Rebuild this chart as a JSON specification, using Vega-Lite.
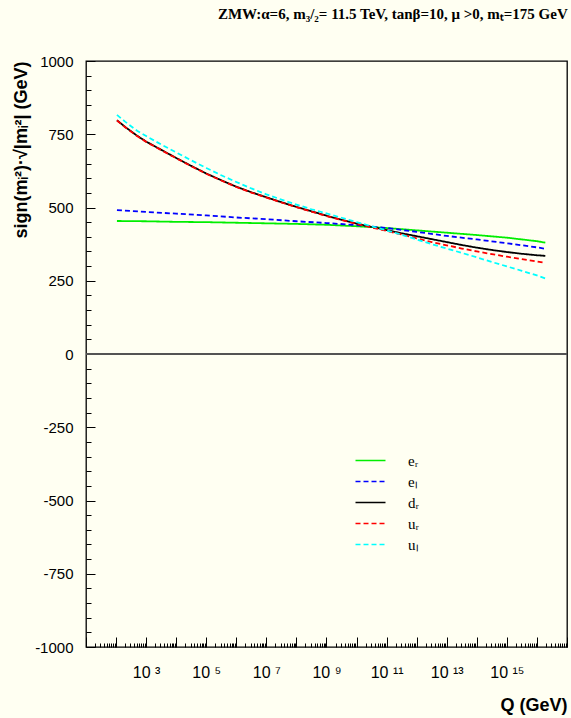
{
  "$schema": "https://vega.github.io/schema/vega-lite/v6.json",
  "autosize": {"type": "none"},
  "padding": {"left": 86, "top": 61, "right": 4, "bottom": 71},
  "width": 481,
  "height": 586,
  "background": "#fffff2",
  "title": {
    "text": "ZMW:α=6, m₃/₂= 11.5 TeV, tanβ=10, μ >0, mₜ=175 GeV",
    "anchor": "end",
    "font": "Liberation Serif",
    "fontSize": 15,
    "fontWeight": "bold",
    "color": "black",
    "offset": 32
  },
  "config": {
    "view": {"stroke": "black", "strokeWidth": 1.3},
    "axis": {
      "labelFont": "Liberation Sans",
      "labelFontSize": 15,
      "labelColor": "black",
      "titleFont": "Liberation Sans",
      "titleFontSize": 18,
      "titleFontWeight": "bold",
      "titleColor": "black",
      "tickColor": "black",
      "tickWidth": 1,
      "domain": false,
      "grid": false,
      "labelOverlap": false,
      "labelFlush": false
    }
  },
  "data": {
    "values": [
      {"Q": 107, "v": 454, "s": "eᵣ"},
      {"Q": 1e3, "v": 453, "s": "eᵣ"},
      {"Q": 1e4, "v": 451, "s": "eᵣ"},
      {"Q": 1e5, "v": 450, "s": "eᵣ"},
      {"Q": 1e6, "v": 448, "s": "eᵣ"},
      {"Q": 1e7, "v": 446, "s": "eᵣ"},
      {"Q": 1e8, "v": 444, "s": "eᵣ"},
      {"Q": 1e9, "v": 441, "s": "eᵣ"},
      {"Q": 1e10, "v": 436, "s": "eᵣ"},
      {"Q": 1e11, "v": 430, "s": "eᵣ"},
      {"Q": 1e12, "v": 422, "s": "eᵣ"},
      {"Q": 1e13, "v": 414, "s": "eᵣ"},
      {"Q": 1e14, "v": 406, "s": "eᵣ"},
      {"Q": 1e15, "v": 397, "s": "eᵣ"},
      {"Q": 1e16, "v": 385, "s": "eᵣ"},
      {"Q": 1.9e16, "v": 380, "s": "eᵣ"},

      {"Q": 107, "v": 491, "s": "eₗ"},
      {"Q": 1e3, "v": 485, "s": "eₗ"},
      {"Q": 1e4, "v": 479, "s": "eₗ"},
      {"Q": 1e5, "v": 473, "s": "eₗ"},
      {"Q": 1e6, "v": 466, "s": "eₗ"},
      {"Q": 1e7, "v": 460, "s": "eₗ"},
      {"Q": 1e8, "v": 453, "s": "eₗ"},
      {"Q": 1e9, "v": 447, "s": "eₗ"},
      {"Q": 1e10, "v": 440, "s": "eₗ"},
      {"Q": 1e11, "v": 430, "s": "eₗ"},
      {"Q": 1e12, "v": 417, "s": "eₗ"},
      {"Q": 1e13, "v": 403, "s": "eₗ"},
      {"Q": 1e14, "v": 391, "s": "eₗ"},
      {"Q": 1e15, "v": 378, "s": "eₗ"},
      {"Q": 1e16, "v": 364, "s": "eₗ"},
      {"Q": 1.9e16, "v": 359, "s": "eₗ"},

      {"Q": 107, "v": 798, "s": "dᵣ"},
      {"Q": 200, "v": 775, "s": "dᵣ"},
      {"Q": 500, "v": 745, "s": "dᵣ"},
      {"Q": 1e3, "v": 725, "s": "dᵣ"},
      {"Q": 3162, "v": 697, "s": "dᵣ"},
      {"Q": 1e4, "v": 669, "s": "dᵣ"},
      {"Q": 31623, "v": 642, "s": "dᵣ"},
      {"Q": 1e5, "v": 616, "s": "dᵣ"},
      {"Q": 316228, "v": 593, "s": "dᵣ"},
      {"Q": 1e6, "v": 571, "s": "dᵣ"},
      {"Q": 3.162e6, "v": 552, "s": "dᵣ"},
      {"Q": 1e7, "v": 535, "s": "dᵣ"},
      {"Q": 3.162e7, "v": 518, "s": "dᵣ"},
      {"Q": 1e8, "v": 502, "s": "dᵣ"},
      {"Q": 3.162e8, "v": 487, "s": "dᵣ"},
      {"Q": 1e9, "v": 472, "s": "dᵣ"},
      {"Q": 3.162e9, "v": 458, "s": "dᵣ"},
      {"Q": 1e10, "v": 445, "s": "dᵣ"},
      {"Q": 3.162e10, "v": 434, "s": "dᵣ"},
      {"Q": 1e11, "v": 423, "s": "dᵣ"},
      {"Q": 3.162e11, "v": 412, "s": "dᵣ"},
      {"Q": 1e12, "v": 402, "s": "dᵣ"},
      {"Q": 3.162e12, "v": 392, "s": "dᵣ"},
      {"Q": 1e13, "v": 382, "s": "dᵣ"},
      {"Q": 3.162e13, "v": 372, "s": "dᵣ"},
      {"Q": 1e14, "v": 363, "s": "dᵣ"},
      {"Q": 3.162e14, "v": 355, "s": "dᵣ"},
      {"Q": 1e15, "v": 348, "s": "dᵣ"},
      {"Q": 3.162e15, "v": 342, "s": "dᵣ"},
      {"Q": 1e16, "v": 337, "s": "dᵣ"},
      {"Q": 1.9e16, "v": 335, "s": "dᵣ"},

      {"Q": 107, "v": 797, "s": "uᵣ"},
      {"Q": 200, "v": 774, "s": "uᵣ"},
      {"Q": 500, "v": 744, "s": "uᵣ"},
      {"Q": 1e3, "v": 724, "s": "uᵣ"},
      {"Q": 3162, "v": 696, "s": "uᵣ"},
      {"Q": 1e4, "v": 668, "s": "uᵣ"},
      {"Q": 31623, "v": 641, "s": "uᵣ"},
      {"Q": 1e5, "v": 615, "s": "uᵣ"},
      {"Q": 316228, "v": 592, "s": "uᵣ"},
      {"Q": 1e6, "v": 570, "s": "uᵣ"},
      {"Q": 3.162e6, "v": 551, "s": "uᵣ"},
      {"Q": 1e7, "v": 534, "s": "uᵣ"},
      {"Q": 3.162e7, "v": 517, "s": "uᵣ"},
      {"Q": 1e8, "v": 501, "s": "uᵣ"},
      {"Q": 3.162e8, "v": 486, "s": "uᵣ"},
      {"Q": 1e9, "v": 471, "s": "uᵣ"},
      {"Q": 3.162e9, "v": 457, "s": "uᵣ"},
      {"Q": 1e10, "v": 444, "s": "uᵣ"},
      {"Q": 3.162e10, "v": 432, "s": "uᵣ"},
      {"Q": 1e11, "v": 420, "s": "uᵣ"},
      {"Q": 3.162e11, "v": 408, "s": "uᵣ"},
      {"Q": 1e12, "v": 395, "s": "uᵣ"},
      {"Q": 3.162e12, "v": 382, "s": "uᵣ"},
      {"Q": 1e13, "v": 371, "s": "uᵣ"},
      {"Q": 3.162e13, "v": 360, "s": "uᵣ"},
      {"Q": 1e14, "v": 350, "s": "uᵣ"},
      {"Q": 3.162e14, "v": 341, "s": "uᵣ"},
      {"Q": 1e15, "v": 332, "s": "uᵣ"},
      {"Q": 3.162e15, "v": 324, "s": "uᵣ"},
      {"Q": 1e16, "v": 316, "s": "uᵣ"},
      {"Q": 1.9e16, "v": 311, "s": "uᵣ"},

      {"Q": 107, "v": 816, "s": "uₗ"},
      {"Q": 200, "v": 793, "s": "uₗ"},
      {"Q": 500, "v": 762, "s": "uₗ"},
      {"Q": 1e3, "v": 744, "s": "uₗ"},
      {"Q": 3162, "v": 715, "s": "uₗ"},
      {"Q": 1e4, "v": 688, "s": "uₗ"},
      {"Q": 31623, "v": 661, "s": "uₗ"},
      {"Q": 1e5, "v": 635, "s": "uₗ"},
      {"Q": 316228, "v": 610, "s": "uₗ"},
      {"Q": 1e6, "v": 587, "s": "uₗ"},
      {"Q": 3.162e6, "v": 565, "s": "uₗ"},
      {"Q": 1e7, "v": 545, "s": "uₗ"},
      {"Q": 3.162e7, "v": 527, "s": "uₗ"},
      {"Q": 1e8, "v": 510, "s": "uₗ"},
      {"Q": 3.162e8, "v": 494, "s": "uₗ"},
      {"Q": 1e9, "v": 480, "s": "uₗ"},
      {"Q": 3.162e9, "v": 465, "s": "uₗ"},
      {"Q": 1e10, "v": 450, "s": "uₗ"},
      {"Q": 3.162e10, "v": 436, "s": "uₗ"},
      {"Q": 1e11, "v": 422, "s": "uₗ"},
      {"Q": 3.162e11, "v": 407, "s": "uₗ"},
      {"Q": 1e12, "v": 391, "s": "uₗ"},
      {"Q": 3.162e12, "v": 375, "s": "uₗ"},
      {"Q": 1e13, "v": 360, "s": "uₗ"},
      {"Q": 3.162e13, "v": 345, "s": "uₗ"},
      {"Q": 1e14, "v": 330, "s": "uₗ"},
      {"Q": 3.162e14, "v": 314, "s": "uₗ"},
      {"Q": 1e15, "v": 299, "s": "uₗ"},
      {"Q": 3.162e15, "v": 284, "s": "uₗ"},
      {"Q": 1e16, "v": 268, "s": "uₗ"},
      {"Q": 1.9e16, "v": 258, "s": "uₗ"}
    ]
  },
  "resolve": {"axis": {"y": "independent"}},
  "layer": [
    {
      "mark": {"type": "line", "strokeWidth": 1.8, "clip": true},
      "encoding": {
        "x": {
          "field": "Q",
          "type": "quantitative",
          "scale": {"type": "log", "domain": [10, 1e17], "nice": false},
          "axis": {
            "title": "Q (GeV)",
            "titleAnchor": "end",
            "titlePadding": 10,
            "values": [1e1,2e1,3e1,4e1,5e1,6e1,7e1,8e1,9e1,1e2,2e2,3e2,4e2,5e2,6e2,7e2,8e2,9e2,1e3,2e3,3e3,4e3,5e3,6e3,7e3,8e3,9e3,1e4,2e4,3e4,4e4,5e4,6e4,7e4,8e4,9e4,1e5,2e5,3e5,4e5,5e5,6e5,7e5,8e5,9e5,1e6,2e6,3e6,4e6,5e6,6e6,7e6,8e6,9e6,1e7,2e7,3e7,4e7,5e7,6e7,7e7,8e7,9e7,1e8,2e8,3e8,4e8,5e8,6e8,7e8,8e8,9e8,1e9,2e9,3e9,4e9,5e9,6e9,7e9,8e9,9e9,1e10,2e10,3e10,4e10,5e10,6e10,7e10,8e10,9e10,1e11,2e11,3e11,4e11,5e11,6e11,7e11,8e11,9e11,1e12,2e12,3e12,4e12,5e12,6e12,7e12,8e12,9e12,1e13,2e13,3e13,4e13,5e13,6e13,7e13,8e13,9e13,1e14,2e14,3e14,4e14,5e14,6e14,7e14,8e14,9e14,1e15,2e15,3e15,4e15,5e15,6e15,7e15,8e15,9e15,1e16,2e16,3e16,4e16,5e16,6e16,7e16,8e16,9e16,1e17],
            "tickSize": {"condition": {"test": "abs(log(datum.value)/LN10 - round(log(datum.value)/LN10)) < 0.000001", "value": -10}, "value": -4},
            "labelPadding": 27,
            "labelFontSize": 16,
            "labelExpr": "abs(log(datum.value)/LN10 - round(log(datum.value)/LN10)) < 0.000001 ? ['','','','10 ³','','10 ⁵','','10 ⁷','','10 ⁹','','10 ¹¹','','10 ¹³','','10 ¹⁵','',''][round(log(datum.value)/LN10)] : ''"
          }
        },
        "y": {
          "field": "v",
          "type": "quantitative",
          "scale": {"domain": [-1000, 1000], "nice": false},
          "axis": {
            "orient": "left",
            "title": "sign(mᵢ²)·√|mᵢ²|  (GeV)",
            "titleAnchor": "end",
            "titlePadding": 4,
            "tickCount": 40,
            "ticks": true,
            "tickColor": "black",
            "tickSize": {"condition": {"test": "abs(datum.value % 250) < 1", "value": -9}, "value": -5},
            "labelPadding": 22,
            "labelExpr": "abs(datum.value % 250) < 1 ? '' + datum.value : ''"
          }
        },
        "color": {
          "field": "s",
          "type": "nominal",
          "scale": {"domain": ["eᵣ", "eₗ", "dᵣ", "uᵣ", "uₗ"], "range": ["#00ee00", "#0000ff", "#000000", "#ff0000", "#00ffff"]},
          "legend": {
            "orient": "none",
            "legendX": 277,
            "legendY": 392,
            "title": null,
            "symbolType": "M-3,0H3",
            "symbolSize": 100,
            "symbolStrokeWidth": 1.5,
            "labelFont": "Liberation Serif",
            "labelFontSize": 15,
            "labelColor": "black",
            "labelOffset": 30,
            "rowPadding": 5
          }
        },
        "strokeDash": {
          "field": "s",
          "type": "nominal",
          "scale": {"domain": ["eᵣ", "eₗ", "dᵣ", "uᵣ", "uₗ"], "range": [[1, 0], [5, 3], [1, 0], [5, 3], [5, 3]]},
          "legend": null
        },
        "order": {"field": "s"}
      }
    },
    {
      "mark": {"type": "rule", "color": "#555555", "strokeWidth": 1.5},
      "encoding": {
        "y": {
          "datum": 0,
          "type": "quantitative",
          "scale": {"domain": [-1000, 1000], "nice": false},
          "axis": null
        }
      }
    }
  ]
}
